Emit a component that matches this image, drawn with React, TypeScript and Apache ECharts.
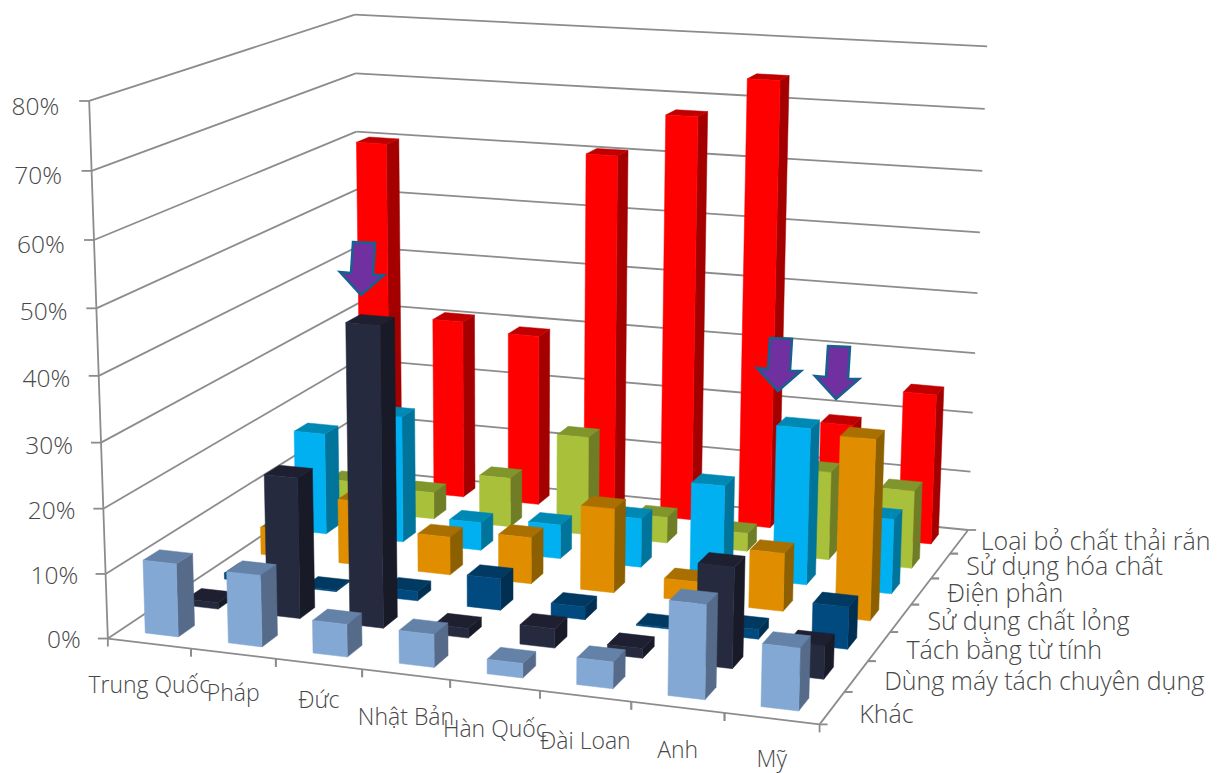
import React, { useEffect, useRef } from "react";
import * as echarts from "echarts";

const WIDTH = 1222;
const HEIGHT = 773;

const COUNTRIES = ["Trung Quốc", "Pháp", "Đức", "Nhật Bản", "Hàn Quốc", "Đài Loan", "Anh", "Mỹ"];
const METHODS = [
  "Khác",
  "Dùng máy tách chuyên dụng",
  "Tách bằng từ tính",
  "Sử dụng chất lỏng",
  "Điện phân",
  "Sử dụng hóa chất",
  "Loại bỏ chất thải rắn",
];
const PERCENT_TICKS = [0, 10, 20, 30, 40, 50, 60, 70, 80];

// Share of each method per country, in percent.
const khac = [11.3, 11, 5, 5, 2.2, 4, 14, 9.2];
const mayTach = [1, 22, 46.4, 1.5, 3, 1.5, 15.3, 5];
const tuTinh = [1, 0.2, 1.5, 5, 2, 0.2, 1.5, 6.5];
const chatLong = [4.5, 10.5, 6.2, 7.5, 13.5, 3.2, 9.2, 28.3];
const dienPhan = [16.9, 21, 4.6, 5.6, 8, 14.7, 25.2, 12];
const hoaChat = [5, 4.5, 8.3, 16.5, 4.3, 3, 14.5, 12.7];
const chatThaiRan = [60, 30.6, 29.2, 60.5, 67.7, 74.3, 18.7, 25];

const SERIES_VALUES = [khac, mayTach, tuTinh, chatLong, dienPhan, hoaChat, chatThaiRan];

// Face colours per method: front, top, right side.
const FACE_COLORS = [
  ["#84a8d4", "#6482a8", "#566b8a"],
  ["#252a3e", "#1e1f30", "#191a28"],
  ["#004a80", "#003a62", "#002f52"],
  ["#e08e00", "#a96f00", "#8c5f00"],
  ["#00b0f0", "#0088b5", "#00749a"],
  ["#a9c13a", "#80952c", "#6e7d26"],
  ["#ff0000", "#c00000", "#a50000"],
];

const LINE_COLOR = "#8c8c8c";
const TEXT_COLOR = "#484848";
const FONT = '"Open Sans", "Noto Sans", sans-serif';
const BAR_FRACTION = 0.4;

// Small per-label shifts, in pixels, for the two category label runs.
const COUNTRY_LABEL_SHIFT_Y = [-1, -3, -6, 1, 2, 3, 1, -2];
const METHOD_LABEL_SHIFT_X = [27, 27.9, 27.3, 26.7, 26.1, 25.5, 21.5];

// Reference points of the plot box, (across, depth, height) in unit space, with their place on the page.
const CAMERA_FIT: [number, number, number, number, number][] = [
  [0, 0, 0, 108.3, 636],
  [0, 0, 0.125, 106.7, 571],
  [0, 0, 0.25, 104.3, 506.7],
  [0, 0, 0.375, 101.7, 441.7],
  [0, 0, 0.625, 96, 309],
  [0, 0, 0.75, 92.7, 240.7],
  [0, 0, 0.875, 90, 172],
  [0, 0, 1, 87.7, 102.7],
  [1, 0, 0, 821, 729],
  [1, 1, 0, 968.3, 527],
  [1, 1, 0.125, 970, 470],
  [1, 1, 0.25, 972.7, 411.7],
  [1, 1, 0.375, 975, 352.7],
  [1, 1, 0.5, 977.3, 293.3],
  [1, 1, 0.625, 979.7, 232.7],
  [1, 1, 0.75, 982.3, 171.3],
  [1, 1, 0.875, 984.3, 109.6],
  [1, 1, 1, 987, 47],
  [0, 1, 0, 358, 477],
  [0, 1, 0.75, 357.2, 130],
  [0, 1, 0.875, 357, 72],
  [0, 1, 1, 356.7, 14],
];

// Least-squares fit of a 3x4 projection matrix (last entry fixed to 1).
function fitProjection(pts: typeof CAMERA_FIT): number[] {
  const n = 11;
  const ata = Array.from({ length: n }, () => new Array(n + 1).fill(0));
  const addRow = (row: number[], rhs: number) => {
    for (let i = 0; i < n; i++) {
      for (let j = 0; j < n; j++) ata[i][j] += row[i] * row[j];
      ata[i][n] += row[i] * rhs;
    }
  };
  for (const [X, Y, Z, px, py] of pts) {
    const x = px / 1000;
    const y = py / 1000;
    addRow([X, Y, Z, 1, 0, 0, 0, 0, -x * X, -x * Y, -x * Z], x);
    addRow([0, 0, 0, 0, X, Y, Z, 1, -y * X, -y * Y, -y * Z], y);
  }
  for (let c = 0; c < n; c++) {
    let pivot = c;
    for (let r = c + 1; r < n; r++) if (Math.abs(ata[r][c]) > Math.abs(ata[pivot][c])) pivot = r;
    [ata[c], ata[pivot]] = [ata[pivot], ata[c]];
    for (let r = 0; r < n; r++) {
      if (r === c) continue;
      const f = ata[r][c] / ata[c][c];
      for (let k = c; k <= n; k++) ata[r][k] -= f * ata[c][k];
    }
  }
  return ata.map((row, i) => row[n] / row[i]);
}

const M = fitProjection(CAMERA_FIT);

function project(u: number, v: number, h: number): [number, number] {
  const w = M[8] * u + M[9] * v + M[10] * h + 1;
  return [
    ((M[0] * u + M[1] * v + M[2] * h + M[3]) / w) * 1000,
    ((M[4] * u + M[5] * v + M[6] * h + M[7]) / w) * 1000,
  ];
}

// Hidden axes fill the chart, so a coordinate they return reads directly as a unit-space fraction.
const toU = (px: number) => px / WIDTH;
const toH = (py: number) => (HEIGHT - py) / HEIGHT;

const line = (a: number[], b: number[]) => ({
  type: "line",
  shape: { x1: a[0], y1: a[1], x2: b[0], y2: b[1] },
  style: { stroke: LINE_COLOR, lineWidth: 1.8 },
});

const label = (text: string, x: number, y: number, fontSize: number, align: string) => ({
  type: "text",
  style: {
    text,
    x,
    y,
    fill: TEXT_COLOR,
    fontSize,
    fontFamily: FONT,
    fontWeight: 300,
    textAlign: align,
    textVerticalAlign: "middle",
  },
});

const renderWallLevel = (_: unknown, api: any) => {
  const value = api.value(1);
  const h = toH(api.coord([0, value])[1]);
  const front = project(0, 0, h);
  const back = project(0, 1, h);
  const right = project(1, 1, h);
  return {
    type: "group",
    children: [
      line(front, back),
      line(back, right),
      line([front[0] - 10, front[1]], front),
      label(`${value}%`, front[0] - 27 - value / 27, front[1] - 0.5 + value / 16, 24.5, "right"),
    ],
  };
};

const renderFrame = () => {
  const a = project(0, 0, 0);
  const top = project(0, 0, 1);
  const b = project(1, 0, 0);
  const c = project(1, 1, 0);
  return { type: "group", children: [line(a, top), line(a, b), line(b, c)] };
};

const renderCountry = (_: unknown, api: any) => {
  const i = api.value(0);
  const tick = project((i + 1) / COUNTRIES.length, 0, 0);
  const start = project(i / COUNTRIES.length, 0, 0);
  const u = toU(api.coord([i, 0])[0]);
  const mid = project(u, 0, 0);
  return {
    type: "group",
    children: [
      line(tick, [tick[0], tick[1] + 8]),
      line(start, [start[0], start[1] + 8]),
      label(COUNTRIES[i], mid[0], mid[1] + 41 + COUNTRY_LABEL_SHIFT_Y[i], 23, "center"),
    ],
  };
};

const renderMethod = (_: unknown, api: any) => {
  const i = api.value(0);
  const n = METHODS.length;
  const tick = project(1, (i + 1) / n, 0);
  const start = project(1, i / n, 0);
  const mid = project(1, (i + 0.5) / n, 0);
  return {
    type: "group",
    children: [
      line(tick, [tick[0] + 8, tick[1]]),
      line(start, [start[0] + 8, start[1]]),
      label(METHODS[i], mid[0] + METHOD_LABEL_SHIFT_X[i], mid[1] + 5 - (i * 7) / 6, 25, "left"),
    ],
  };
};

const face = (points: number[][], fill: string) => ({
  type: "polygon",
  shape: { points },
  style: { fill, stroke: fill, lineWidth: 0.5 },
});

const barRenderer = (methodIndex: number) => (_: unknown, api: any) => {
  const cat = api.value(0);
  const val = api.value(1);
  const [px, py] = api.coord([cat, val]);
  const band = api.size([1, 0])[0] / WIDTH;
  const uc = toU(px);
  const h = toH(py);
  const u0 = uc - (band * BAR_FRACTION) / 2;
  const u1 = uc + (band * BAR_FRACTION) / 2;
  const depth = 1 / METHODS.length;
  const vc = (methodIndex + 0.5) * depth;
  const v0 = vc - (depth * BAR_FRACTION) / 2;
  const v1 = vc + (depth * BAR_FRACTION) / 2;
  const [front, top, side] = FACE_COLORS[methodIndex];
  return {
    type: "group",
    children: [
      face([project(u1, v0, 0), project(u1, v1, 0), project(u1, v1, h), project(u1, v0, h)], side),
      face([project(u0, v0, h), project(u1, v0, h), project(u1, v1, h), project(u0, v1, h)], top),
      face([project(u0, v0, 0), project(u1, v0, 0), project(u1, v0, h), project(u0, v0, h)], front),
    ],
  };
};

// Call-out arrows: outline relative to the tip, then where each tip sits.
const ARROW_OUTLINE = [
  [-8, -53],
  [14, -52],
  [12, -20],
  [23, -20],
  [0, 0],
  [-21, -23],
  [-10, -22],
];
const ARROW_TIPS = [
  [361, 295],
  [778, 391],
  [836, 399],
];

const renderArrow = (_: unknown, api: any) => {
  const [tx, ty] = ARROW_TIPS[api.value(0)];
  return {
    type: "polygon",
    shape: { points: ARROW_OUTLINE.map(([dx, dy]) => [tx + dx, ty + dy]) },
    style: { fill: "#7030a0", stroke: "#17608f", lineWidth: 2.5, lineJoin: "miter" },
  };
};

export default function App() {
  const ref = useRef<HTMLDivElement>(null);

  useEffect(() => {
    const chart = echarts.init(ref.current!, undefined, { renderer: "svg" });
    const common = { type: "custom", coordinateSystem: "cartesian2d", silent: true, clip: false };
    chart.setOption({
      animation: false,
      backgroundColor: "#ffffff",
      grid: { left: 0, right: 0, top: 0, bottom: 0 },
      xAxis: { type: "category", data: COUNTRIES, show: false },
      yAxis: { type: "value", min: 0, max: 80, interval: 10, show: false },
      series: [
        { ...common, z: 1, renderItem: renderWallLevel, data: PERCENT_TICKS.map((v) => [0, v]) },
        { ...common, z: 2, renderItem: renderFrame, data: [[0, 0]] },
        { ...common, z: 3, renderItem: renderCountry, data: COUNTRIES.map((_, i) => [i, 0]) },
        { ...common, z: 3, renderItem: renderMethod, data: METHODS.map((_, i) => [i, 0]) },
        // Rear row first so that nearer bars paint over it.
        ...SERIES_VALUES.map((values, m) => ({ m, values }))
          .reverse()
          .map(({ m, values }) => ({
            ...common,
            name: METHODS[m],
            z: 10 + (METHODS.length - m),
            renderItem: barRenderer(m),
            data: values.map((v, i) => [i, v]),
          })),
        { ...common, z: 30, renderItem: renderArrow, data: ARROW_TIPS.map((_, i) => [i, 0]) },
      ],
    });
    return () => chart.dispose();
  }, []);

  return (
    <div
      ref={ref}
      style={{ position: "fixed", left: 0, top: 0, width: WIDTH, height: HEIGHT }}
    />
  );
}
